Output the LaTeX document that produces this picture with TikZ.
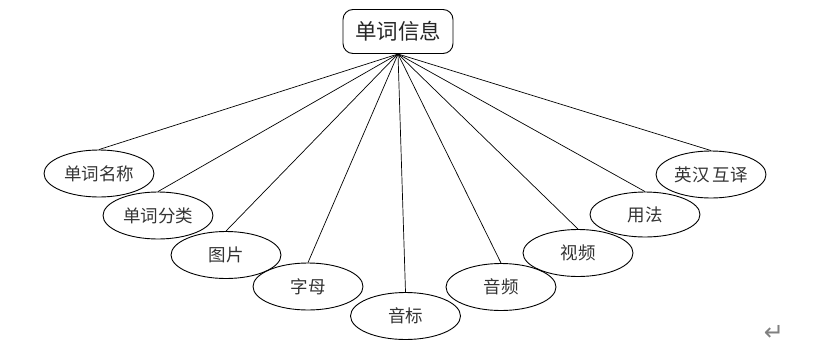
\documentclass[tikz,border=0pt]{standalone}
\usepackage{fontspec}
\newfontfamily\cjk{Noto Sans CJK SC}
\newfontfamily\dejavu{DejaVu Sans}
\usetikzlibrary{shapes.geometric}
\begin{document}
\begin{tikzpicture}[x=1pt,y=-1pt,
  oval/.style={ellipse,draw,line width=0.9pt,minimum width=110pt,minimum height=47pt,inner sep=0pt,text=black!80,font=\cjk\fontsize{17.5}{19}\selectfont},
  topbox/.style={draw,rounded corners=10pt,line width=0.9pt,minimum width=110pt,minimum height=44pt,inner sep=0pt,text=black!85,font=\cjk\fontsize{21.5}{23}\selectfont},
  link/.style={line width=0.7pt}]
\useasboundingbox (0,0) rectangle (818,351);
\node[topbox] (top) at (398,31.5) {单词信息};
\coordinate (hub) at (398,54);
\node[oval] (a) at (99,173.5) {单词名称};
\node[oval] (b) at (158,215.5) {单词分类};
\node[oval] (c) at (226,255) {图片};
\node[oval] (d) at (308,286.5) {字母};
\node[oval] (e) at (405.5,316) {音标};
\node[oval] (f) at (501,287) {音频};
\node[oval] (g) at (578,253) {视频};
\node[oval,minimum height=45pt] (h) at (645,214.5) {用法};
\node[oval] (i) at (711,174.5) {英汉\hspace{3pt}互译};
\foreach \n in {a,b,c,d,e,f,g,h,i}{\draw[link] (hub) -- (\n.north);}
\node[text=gray,font=\dejavu\fontsize{24}{24}\selectfont,inner sep=0pt] (ret) at (774,333) {↵};
\end{tikzpicture}
\end{document}
